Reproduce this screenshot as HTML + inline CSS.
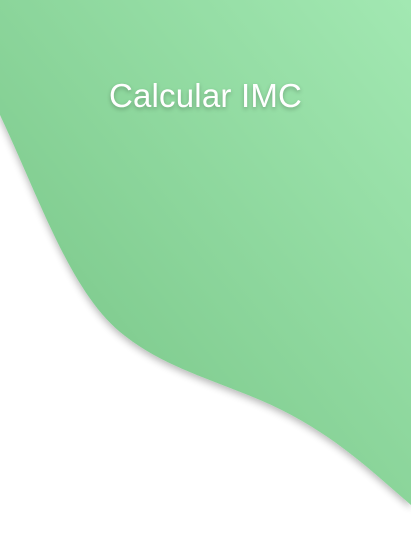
<!DOCTYPE html>
<html>
<head>
<meta charset="utf-8">
<style>
html,body{margin:0;padding:0;background:#fff;}
body{width:411px;height:540px;position:relative;overflow:hidden;font-family:"Liberation Sans",sans-serif;}
svg{position:absolute;left:0;top:0;}
.title{position:absolute;left:0;width:411px;top:77px;text-align:center;color:#fff;font-size:33px;text-shadow:0 2px 4px rgba(0,0,0,0.25);letter-spacing:0.2px;}
</style>
</head>
<body>
<svg width="411" height="540">
  <defs>
    <linearGradient id="g" x1="1" y1="0" x2="0" y2="1">
      <stop offset="0" stop-color="#a2e8b2"/>
      <stop offset="1" stop-color="#74c283"/>
    </linearGradient>
    <filter id="sh" x="-20%" y="-20%" width="140%" height="140%">
      <feGaussianBlur in="SourceAlpha" stdDeviation="4"/>
      <feOffset dx="0" dy="3"/>
      <feComponentTransfer><feFuncA type="linear" slope="0.3"/></feComponentTransfer>
      <feMerge><feMergeNode/><feMergeNode in="SourceGraphic"/></feMerge>
    </filter>
  </defs>
  <path filter="url(#sh)" fill="url(#g)" d="M0,0 H411 V505 C370,470 330,430 260,400 C205,377 160,365 120,332 C70,290 40,200 0,115 Z"/>
</svg>
<div class="title">Calcular IMC</div>
</body>
</html>
